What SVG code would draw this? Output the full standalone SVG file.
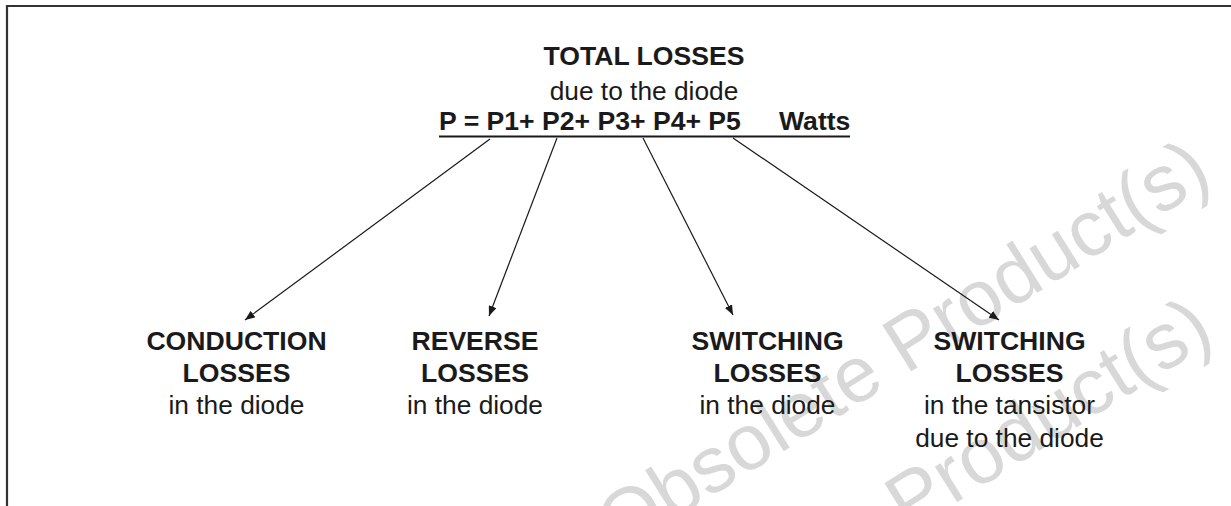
<svg xmlns="http://www.w3.org/2000/svg" width="1231" height="506" viewBox="0 0 1231 506">
<defs>
<style>
.b{font-family:"Liberation Sans",Arial,sans-serif;font-weight:bold;font-size:26.6px;fill:#1a1a1a;text-anchor:middle}
.r{font-family:"Liberation Sans",Arial,sans-serif;font-size:26.3px;fill:#1a1a1a;text-anchor:middle}
.wm{font-family:"Liberation Sans",Arial,sans-serif;font-size:79px;fill:#d8d8d8}
.c{stroke:#1a1a1a;stroke-width:1.2;fill:none;marker-end:url(#ah)}
</style>
<marker id="ah" viewBox="0 0 10 8" refX="10" refY="4" markerWidth="10" markerHeight="8" markerUnits="userSpaceOnUse" orient="auto">
<path d="M0,0 L10,4 L0,8 Z" fill="#1a1a1a"/>
</marker>
</defs>
<rect width="1231" height="506" fill="#fff"/>
<g id="watermark">
<text class="wm" transform="translate(619,554) rotate(-32)">Obsolete Product(s)</text>
<text class="wm" transform="translate(621,712) rotate(-32)">Obsolete Product(s)</text>
</g>
<path d="M7,506 V6 H1231" stroke="#333" stroke-width="2.2" fill="none"/>
<g id="total">
<text class="b" x="644" y="65">TOTAL LOSSES</text>
<text class="r" x="644" y="100">due to the diode</text>
<text class="b" x="439" y="129.5" style="text-anchor:start">P = P1+ P2+ P3+ P4+ P5<tspan x="779">Watts</tspan></text>
<line x1="439" y1="136.5" x2="850" y2="136.5" stroke="#1a1a1a" stroke-width="2"/>
</g>
<g id="connectors">
<line class="c" x1="490" y1="139" x2="245" y2="320"/>
<line class="c" x1="557" y1="138" x2="489" y2="316"/>
<line class="c" x1="643" y1="138" x2="733" y2="315"/>
<line class="c" x1="733" y1="138" x2="999" y2="320"/>
</g>
<g id="conduction">
<text class="b" x="236.5" y="350">CONDUCTION</text>
<text class="b" x="236.5" y="382">LOSSES</text>
<text class="r" x="236.5" y="414">in the diode</text>
</g>
<g id="reverse">
<text class="b" x="475" y="350">REVERSE</text>
<text class="b" x="475" y="382">LOSSES</text>
<text class="r" x="475" y="414">in the diode</text>
</g>
<g id="switching-diode">
<text class="b" x="767.5" y="350">SWITCHING</text>
<text class="b" x="767.5" y="382">LOSSES</text>
<text class="r" x="767.5" y="414">in the diode</text>
</g>
<g id="switching-transistor">
<text class="b" x="1009.5" y="350">SWITCHING</text>
<text class="b" x="1009.5" y="382">LOSSES</text>
<text class="r" x="1009.5" y="414">in the tansistor</text>
<text class="r" x="1009.5" y="447">due to the diode</text>
</g>
</svg>
